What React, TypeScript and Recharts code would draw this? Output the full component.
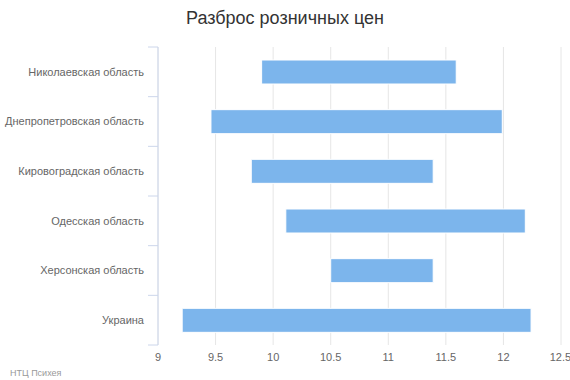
import React from 'react';
import { BarChart, Bar, XAxis, YAxis, CartesianGrid } from 'recharts';

const categories = [
  'Николаевская область',
  'Днепропетровская область',
  'Кировоградская область',
  'Одесская область',
  'Херсонская область',
  'Украина',
];
const lowValues = [9.9, 9.46, 9.81, 10.11, 10.5, 9.21];
const highValues = [11.59, 11.99, 11.39, 12.19, 11.39, 12.24];
const xTicks = [9, 9.5, 10, 10.5, 11, 11.5, 12, 12.5];
const titleText = 'Разброс розничных цен';
const creditText = 'НТЦ Психея';

const data = categories.map((name, i) => ({ name, range: [lowValues[i], highValues[i]] }));

const FONT = '"Lucida Grande", "Lucida Sans Unicode", Arial, Helvetica, sans-serif';

const CategoryTick = (props: any) => {
  const { x, y, payload, index, height } = props;
  const half = height / (categories.length * 2);
  return (
    <g>
      <line x1={x - 10} x2={x} y1={y - half} y2={y - half} stroke="#ccd6eb" strokeWidth={1} />
      {index === categories.length - 1 && (
        <line x1={x - 10} x2={x} y1={y + half} y2={y + half} stroke="#ccd6eb" strokeWidth={1} />
      )}
      <text x={x - 14} y={y} dy="0.35em" textAnchor="end" fill="#666666" fontSize={11} fontFamily={FONT}>
        {payload.value}
      </text>
    </g>
  );
};

export default function App() {
  return (
    <div style={{ position: 'absolute', left: 0, top: 0, width: 570, height: 380, background: '#fff' }}>
      <div
        style={{
          position: 'absolute',
          left: 0,
          top: 6,
          width: 570,
          textAlign: 'center',
          fontFamily: FONT,
          fontSize: 18,
          color: '#333333',
          lineHeight: '24px',
        }}
      >
        {titleText}
      </div>
      <BarChart
        width={570}
        height={380}
        data={data}
        layout="vertical"
        margin={{ top: 47, right: 9, bottom: 0, left: 0 }}
        barCategoryGap={0}
      >
        <CartesianGrid horizontal={false} stroke="#e6e6e6" />
        <XAxis
          type="number"
          domain={[9, 12.5]}
          ticks={xTicks}
          allowDataOverflow
          height={35}
          axisLine={false}
          tickLine={false}
          tick={{ fill: '#666666', fontSize: 11, fontFamily: FONT }}
        />
        <YAxis
          type="category"
          dataKey="name"
          width={158}
          axisLine={{ stroke: '#ccd6eb' }}
          tickLine={false}
          tickSize={0}
          tickMargin={0}
          interval={0}
          tick={<CategoryTick />}
        />
        <Bar dataKey="range" fill="#7cb5ec" stroke="#ffffff" strokeWidth={1} barSize={24} isAnimationActive={false} />
      </BarChart>
      <div
        style={{
          position: 'absolute',
          left: 10,
          top: 367,
          fontFamily: FONT,
          fontSize: 9,
          color: '#999999',
          lineHeight: '12px',
        }}
      >
        {creditText}
      </div>
    </div>
  );
}
